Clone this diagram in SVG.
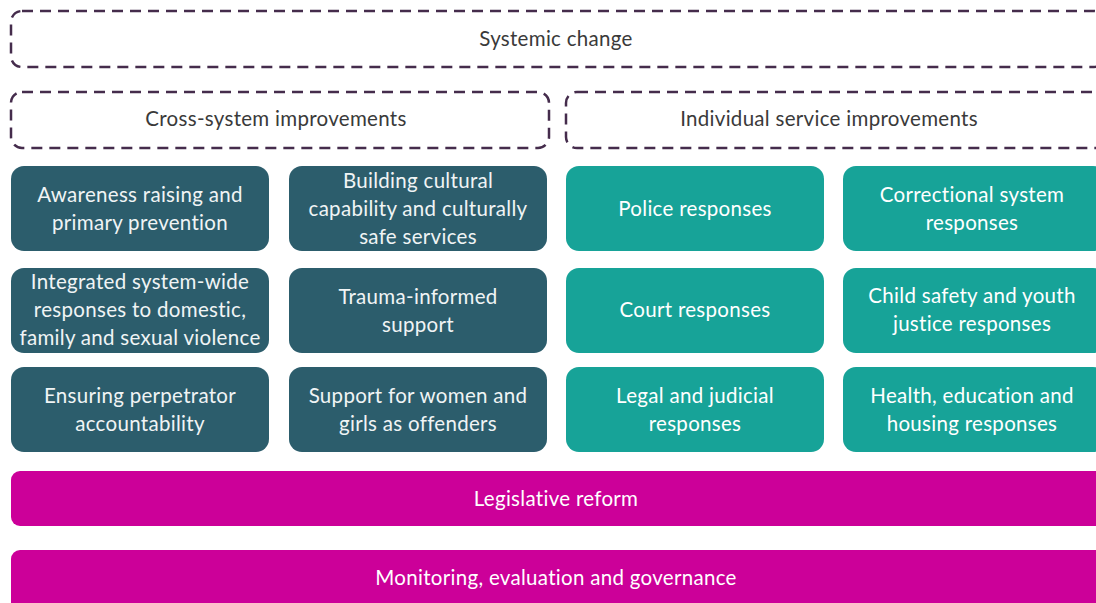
<svg xmlns="http://www.w3.org/2000/svg" width="1096" height="603" viewBox="0 0 1096 603">
<style>
.dash{fill:none;stroke:#452c4c;stroke-width:2.5;stroke-dasharray:11 7}
.dk{fill:#2c5d6c}
.tl{fill:#17a398}
.mg{fill:#cc0099}
text{font-family:Lato,"Open Sans","Liberation Sans",sans-serif;font-size:20.5px;letter-spacing:0.3px;text-anchor:middle}
.w{fill:#ffffff}
.dk+text,.dk~text{fill:#f0f4f5}
.g{fill:#3a3a3a}
</style>
<rect width="1096" height="603" fill="#ffffff"/>
<g id="systemic"><rect class="dash" x="11" y="11" width="1094" height="56" rx="11"/><text class="g" x="556" y="46">Systemic change</text></g>
<g id="cross"><rect class="dash" x="11" y="92" width="538" height="56" rx="11"/><text class="g" x="276" y="126">Cross-system improvements</text></g>
<g id="individual"><rect class="dash" x="566" y="92" width="540" height="56" rx="11"/><text class="g" x="829" y="126">Individual service improvements</text></g>
<g id="n1"><rect class="dk" x="11" y="166" width="258" height="85" rx="13"/><text class="w" x="140" y="202">Awareness raising and</text><text class="w" x="140" y="230">primary prevention</text></g>
<g id="n2"><rect class="dk" x="289" y="166" width="258" height="85" rx="13"/><text class="w" x="418" y="188">Building cultural</text><text class="w" x="418" y="216">capability and culturally</text><text class="w" x="418" y="244">safe services</text></g>
<g id="n3"><rect class="tl" x="566" y="166" width="258" height="85" rx="13"/><text class="w" x="695" y="216">Police responses</text></g>
<g id="n4"><rect class="tl" x="843" y="166" width="263" height="85" rx="13"/><text class="w" x="972" y="202">Correctional system</text><text class="w" x="972" y="230">responses</text></g>
<g id="n5"><rect class="dk" x="11" y="268" width="258" height="85" rx="13"/><text class="w" x="140" y="289">Integrated system-wide</text><text class="w" x="140" y="317">responses to domestic,</text><text class="w" x="140" y="345">family and sexual violence</text></g>
<g id="n6"><rect class="dk" x="289" y="268" width="258" height="85" rx="13"/><text class="w" x="418" y="304">Trauma-informed</text><text class="w" x="418" y="332">support</text></g>
<g id="n7"><rect class="tl" x="566" y="268" width="258" height="85" rx="13"/><text class="w" x="695" y="317">Court responses</text></g>
<g id="n8"><rect class="tl" x="843" y="268" width="263" height="85" rx="13"/><text class="w" x="972" y="303">Child safety and youth</text><text class="w" x="972" y="331">justice responses</text></g>
<g id="n9"><rect class="dk" x="11" y="367" width="258" height="85" rx="13"/><text class="w" x="140" y="403">Ensuring perpetrator</text><text class="w" x="140" y="431">accountability</text></g>
<g id="n10"><rect class="dk" x="289" y="367" width="258" height="85" rx="13"/><text class="w" x="418" y="403">Support for women and</text><text class="w" x="418" y="431">girls as offenders</text></g>
<g id="n11"><rect class="tl" x="566" y="367" width="258" height="85" rx="13"/><text class="w" x="695" y="403">Legal and judicial</text><text class="w" x="695" y="431">responses</text></g>
<g id="n12"><rect class="tl" x="843" y="367" width="263" height="85" rx="13"/><text class="w" x="972" y="403">Health, education and</text><text class="w" x="972" y="431">housing responses</text></g>
<g id="legislative"><rect class="mg" x="11" y="471" width="1095" height="55" rx="9"/><text class="w" x="556" y="506">Legislative reform</text></g>
<g id="monitoring"><rect class="mg" x="11" y="550" width="1095" height="62" rx="9"/><text class="w" x="556" y="585">Monitoring, evaluation and governance</text></g>
<g id="connectors"></g>
</svg>
